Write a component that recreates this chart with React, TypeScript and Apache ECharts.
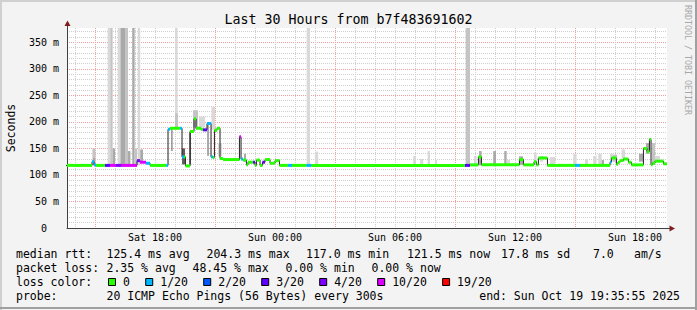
import { useEffect, useRef } from 'react';
import * as echarts from 'echarts';

// ---------- data ----------
const START_H = 13 + 35 / 60 + 55 / 3600; // Sat 13:35:55 (hours since Sat 00:00)
const END_H = START_H + 30; // Sun 19:35:55
const Y_MAX = 377;

const xLabelHours = [18, 24, 30, 36, 42];
const xMajorHours = [15, 21, 27, 33, 39];
const xMinorHours = [14, 16, 17, 18, 19, 20, 22, 23, 24, 25, 26, 28, 29, 30, 31, 32, 34, 35, 36, 37, 38, 40, 41, 42, 43];
const yLabelValues = [0, 50, 100, 150, 200, 250, 300, 350];
const yMajorValues = [50, 100, 150, 200, 250, 300, 350];
const yMinorValues = [10, 20, 30, 40, 60, 70, 80, 90, 110, 120, 130, 140, 160, 170, 180, 190, 210, 220, 230, 240, 260, 270, 280, 290, 310, 320, 330, 340, 360, 370];

const lossLabels = ['0', '1/20', '2/20', '3/20', '4/20', '10/20', '19/20'];
const lossColors = ['#26ff00', '#00b8ff', '#0059ff', '#5e00ff', '#7e00ff', '#dd00ff', '#ff0000'];

// median rtt: start hour of each step, value (ms), loss class (index into lossLabels)
const medianTime = [13.5, 14.85, 14.95, 15.05, 15.5, 15.75, 16.05, 16.3, 17.1, 17.25, 17.55, 17.75, 18.57, 18.65, 18.75, 19.25, 19.35, 19.45, 19.52, 19.75, 19.95, 20.05, 20.3, 20.4, 20.6, 20.8, 20.9, 20.97, 21.1, 21.25, 21.4, 22.22, 22.3, 22.4, 22.57, 22.65, 22.9, 23.0, 23.07, 23.25, 23.37, 23.5, 23.75, 24.0, 24.22, 24.65, 24.85, 25.57, 25.82, 33.5, 33.75, 34.17, 34.32, 36.22, 36.42, 36.95, 37.07, 37.17, 37.62, 39.0, 39.25, 40.75, 40.82, 41.07, 41.15, 41.25, 41.42, 41.67, 41.82, 42.42, 42.6, 42.72, 42.8, 42.87, 43.0, 43.42];
const medianMs = [118, 125, 119, 118, 118, 118, 118, 118, 127, 124, 122, 118, 118, 186, 188, 188, 134, 134, 117, 182, 206, 188, 186, 185, 197, 134, 133, 184, 188, 131, 129, 172, 130, 128, 119, 124, 124, 118, 128, 118, 124, 129, 122, 127, 118, 118, 118, 118, 118, 118, 119, 134, 119, 129, 119, 125, 119, 132, 118, 118, 118, 124, 132, 120, 124, 127, 130, 124, 119, 150, 144, 167, 119, 122, 126, 121];
const medianLoss = [0, 1, 1, 0, 3, 5, 4, 5, 4, 5, 1, 0, 1, 1, 0, 1, 1, 0, 0, 0, 0, 0, 0, 3, 1, 1, 0, 0, 0, 0, 0, 5, 1, 0, 0, 0, 3, 0, 0, 0, 3, 0, 0, 0, 0, 1, 0, 1, 0, 3, 0, 0, 0, 0, 0, 0, 0, 0, 0, 1, 0, 1, 0, 0, 0, 0, 0, 0, 0, 0, 0, 0, 0, 0, 0, 0];

// smoke (spread of the 20 pings): from hour, to hour, low ms, high ms, density 1..4
const smokeFrom = [14.87, 14.9, 15.63, 15.76, 15.88, 16.13, 16.27, 16.5, 16.65, 16.86, 16.98, 17.13, 17.26, 18.82, 19.01, 19.0, 19.35, 19.72, 19.9, 20.2, 20.6, 20.82, 21.15, 22.45, 25.58, 25.99, 30.91, 31.25, 31.63, 32.0, 33.53, 33.95, 34.2, 34.91, 35.46, 35.58, 36.2, 36.95, 37.25, 37.75, 38.91, 39.5, 39.91, 40.16, 40.33, 40.75, 40.9, 41.33, 42.2, 42.55, 42.85, 43.0];
const smokeTo = [15.02, 15.0, 15.75, 15.88, 16.0, 16.27, 16.5, 16.65, 16.77, 16.98, 17.1, 17.26, 17.4, 18.87, 19.13, 19.15, 19.5, 19.8, 20.15, 20.5, 20.7, 21.0, 21.35, 22.55, 25.75, 26.16, 31.05, 31.41, 31.75, 32.1, 33.75, 34.08, 34.33, 35.05, 35.58, 35.75, 36.4, 37.08, 37.41, 38.0, 39.08, 39.65, 40.08, 40.33, 40.45, 40.91, 41.1, 41.5, 42.4, 42.7, 43.0, 43.25];
const smokeLow = [118, 118, 118, 118, 120, 118, 118, 118, 118, 118, 120, 118, 124, 145, 188, 190, 120, 120, 190, 190, 136, 185, 135, 125, 118, 118, 118, 118, 118, 118, 118, 118, 118, 118, 118, 118, 119, 118, 125, 118, 118, 118, 118, 118, 118, 125, 125, 130, 125, 140, 122, 126];
const smokeHigh = [150, 132, 400, 400, 150, 400, 400, 400, 145, 400, 150, 400, 148, 188, 400, 216, 150, 180, 222, 210, 197, 228, 160, 140, 400, 144, 136, 130, 145, 128, 400, 136, 145, 145, 145, 128, 135, 142, 136, 134, 140, 130, 136, 140, 128, 140, 138, 148, 140, 160, 160, 136];
const smokeDensity = [2, 3, 1, 2, 3, 1, 3, 2, 3, 3, 2, 1, 3, 4, 1, 2, 4, 4, 2, 1, 3, 1, 1, 3, 1, 1, 1, 1, 1, 1, 2, 1, 3, 3, 3, 1, 3, 1, 1, 1, 1, 1, 1, 1, 3, 1, 2, 1, 3, 3, 2, 1];

const titleText = 'Last 30 Hours from b7f483691602';
const yAxisName = 'Seconds';
const watermark = 'RRDTOOL / TOBI OETIKER';
const rttLabel = 'median rtt:';
const rttItems = ['125.4 ms avg', '204.3 ms max', '117.0 ms min', '121.5 ms now', '17.8 ms sd', '7.0', 'am/s'];
const lossLabel = 'packet loss:';
const lossItems = ['2.35 % avg', '48.45 % max', '0.00 % min', '0.00 % now'];
const lossColorLabel = 'loss color:';
const probeLabel = 'probe:';
const probeText = '20 ICMP Echo Pings (56 Bytes) every 300s';
const endText = 'end: Sun Oct 19 19:35:55 2025';

// ---------- layout / style ----------
const W = 697;
const H = 310;
const MONO = '"DejaVu Sans Mono", monospace';
const LEG_FS = 11.5;
const ADV = LEG_FS * 0.602;
const rttItemX = [106.5, 206.5, 306, 407, 501, 593, 634];
const lossItemX = [106.5, 192.5, 285.5, 371.5];
const rowY = [254, 268, 282, 296];
const smokeShades = ['#d9d9d9', '#c4c4c4', '#a9a9a9', '#5e5e5e'];
const GRID_GRAY = '#cfcfcf';
const GRID_RED = '#f2a0a0';

function fmtHour(h: number) {
  const day = h < 24 ? 'Sat' : 'Sun';
  const hh = Math.round(h) % 24;
  return `${day} ${String(hh).padStart(2, '0')}:00`;
}

function txt(text: string, x: number, y: number, opts: any = {}) {
  return {
    type: 'text',
    x,
    y,
    rotation: opts.rotation || 0,
    z: 50,
    silent: true,
    style: {
      text,
      fill: opts.fill || '#000',
      fontSize: opts.fontSize || LEG_FS,
      fontFamily: MONO,
      align: opts.align || 'left',
      verticalAlign: 'middle',
    },
  };
}

export default function App() {
  const ref = useRef<HTMLDivElement>(null);

  useEffect(() => {
    if (!ref.current) return;
    const chart = echarts.init(ref.current, undefined, { renderer: 'svg' });

    const lineData = medianTime.map((t, i) => [t, medianMs[i]]);
    lineData.push([END_H, medianMs[medianMs.length - 1]]);

    const bandData = medianTime.map((t, i) => [
      t,
      i + 1 < medianTime.length ? medianTime[i + 1] : END_H,
      medianMs[i],
      medianLoss[i],
    ]);

    const smokeData = smokeFrom.map((t, i) => [t, smokeTo[i], smokeLow[i], smokeHigh[i], smokeDensity[i]]);

    const graphics: any[] = [];
    graphics.push({ type: 'rect', shape: { x: 0, y: 0, width: W, height: 2 }, style: { fill: '#d0d0d0' }, silent: true, z: 40 });
    graphics.push({ type: 'rect', shape: { x: 0, y: 0, width: 2, height: H }, style: { fill: '#d0d0d0' }, silent: true, z: 40 });
    graphics.push({ type: 'rect', shape: { x: W - 2, y: 0, width: 2, height: H }, style: { fill: '#a0a0a0' }, silent: true, z: 41 });
    graphics.push({ type: 'rect', shape: { x: 0, y: H - 3, width: W, height: 2 }, style: { fill: '#a0a0a0' }, silent: true, z: 41 });
    graphics.push({ type: 'line', shape: { x1: 67.5, y1: 28, x2: 67.5, y2: 25 }, style: { stroke: '#404040', lineWidth: 1 }, silent: true, z: 45 });
    graphics.push({ type: 'polygon', shape: { points: [[67.5, 20.5], [64.5, 26], [70.5, 26]] }, style: { fill: '#7f1d1d' }, silent: true, z: 46 });
    graphics.push({ type: 'line', shape: { x1: 667, y1: 228.5, x2: 670, y2: 228.5 }, style: { stroke: '#404040', lineWidth: 1 }, silent: true, z: 45 });
    graphics.push({ type: 'polygon', shape: { points: [[675, 228.5], [669.5, 225.5], [669.5, 231.5]] }, style: { fill: '#7f1d1d' }, silent: true, z: 46 });

    graphics.push(txt(titleText, W / 2, 19.5, { fontSize: 13.3, align: 'center' }));
    graphics.push(txt(watermark, 688, 60, { fontSize: 8.3, align: 'center', fill: '#a8a8a8', rotation: -Math.PI / 2 }));

    graphics.push(txt(rttLabel, 16, rowY[0]));
    rttItems.forEach((s, i) => graphics.push(txt(s, rttItemX[i], rowY[0])));
    graphics.push(txt(lossLabel, 16, rowY[1]));
    lossItems.forEach((s, i) => graphics.push(txt(s, lossItemX[i], rowY[1])));
    graphics.push(txt(lossColorLabel, 16, rowY[2]));
    let sx = 108.5;
    lossLabels.forEach((lab, i) => {
      graphics.push({
        type: 'rect',
        shape: { x: sx, y: rowY[2] - 3.5, width: 7, height: 7 },
        style: { fill: lossColors[i], stroke: '#000', lineWidth: 1 },
        silent: true,
        z: 50,
      });
      graphics.push(txt(lab, sx + 14.5, rowY[2]));
      sx = sx + 15 + lab.length * ADV + 15.3;
    });
    graphics.push(txt(probeLabel, 16, rowY[3]));
    graphics.push(txt(probeText, 106.5, rowY[3]));
    graphics.push(txt(endText, 680, rowY[3], { align: 'right' }));

    const option: any = {
      animation: false,
      backgroundColor: '#f3f3f3',
      grid: {
        left: 67,
        right: 30,
        top: 28,
        bottom: 82,
        show: true,
        backgroundColor: '#ffffff',
        borderWidth: 0,
        containLabel: false,
        outerBoundsMode: 'none',
      },
      xAxis: [
        {
          type: 'value',
          min: START_H,
          max: END_H,
          position: 'bottom',
          axisLine: { show: true, onZero: false, lineStyle: { color: '#404040', width: 1 } },
          axisTick: { show: false, customValues: xMinorHours },
          axisLabel: {
            show: true,
            customValues: xLabelHours,
            formatter: (v: number) => fmtHour(v),
            fontFamily: MONO,
            fontSize: 10,
            color: '#000',
            margin: 4,
          },
          splitLine: { show: true, lineStyle: { color: GRID_GRAY, width: 1, type: [1, 1] } },
        },
        {
          type: 'value',
          min: START_H,
          max: END_H,
          position: 'top',
          axisLine: { show: false },
          axisTick: { show: false, customValues: xMajorHours },
          axisLabel: { show: false },
          splitLine: { show: true, lineStyle: { color: GRID_RED, width: 1, type: [1, 1] } },
        },
      ],
      yAxis: [
        {
          type: 'value',
          min: 0,
          max: Y_MAX,
          position: 'left',
          name: yAxisName,
          nameLocation: 'middle',
          nameRotate: 90,
          nameGap: 50,
          nameTextStyle: { fontFamily: MONO, fontSize: 11.5, color: '#000' },
          axisLine: { show: true, onZero: false, lineStyle: { color: '#404040', width: 1 } },
          axisTick: { show: false, customValues: yMinorValues },
          axisLabel: {
            show: true,
            customValues: yLabelValues,
            formatter: (v: number) => (v === 0 ? '{z|0}' : `${v} m`),
            rich: { z: { padding: [0, 12, 0, 0], fontFamily: MONO, fontSize: 10, color: '#000' } },
            fontFamily: MONO,
            fontSize: 10,
            color: '#000',
            margin: 8,
          },
          splitLine: { show: true, lineStyle: { color: GRID_GRAY, width: 1, type: [1, 1] } },
        },
        {
          type: 'value',
          min: 0,
          max: Y_MAX,
          position: 'right',
          axisLine: { show: false },
          axisTick: { show: false, customValues: yMajorValues },
          axisLabel: { show: false },
          splitLine: { show: true, lineStyle: { color: GRID_RED, width: 1, type: [1, 1] } },
        },
      ],
      series: [
        {
          type: 'custom',
          name: 'smoke',
          xAxisIndex: 0,
          yAxisIndex: 0,
          clip: true,
          z: 2,
          silent: true,
          data: smokeData,
          encode: { x: [0, 1], y: [2, 3] },
          renderItem: (_p: any, api: any) => {
            const t0 = api.value(0);
            const t1 = api.value(1);
            const lo = api.value(2);
            const hi = Math.min(api.value(3), Y_MAX);
            const a = api.coord([t0, hi]);
            const b = api.coord([t1, lo]);
            return {
              type: 'rect',
              shape: { x: a[0], y: a[1], width: b[0] - a[0], height: b[1] - a[1] },
              style: { fill: smokeShades[api.value(4) - 1] },
            };
          },
        },
        {
          type: 'line',
          name: 'median',
          xAxisIndex: 0,
          yAxisIndex: 0,
          step: 'end',
          symbol: 'none',
          z: 3,
          silent: true,
          lineStyle: { color: '#202020', width: 1 },
          data: lineData,
        },
        {
          type: 'custom',
          name: 'loss',
          xAxisIndex: 0,
          yAxisIndex: 0,
          clip: true,
          z: 4,
          silent: true,
          data: bandData,
          encode: { x: [0, 1], y: 2 },
          renderItem: (_p: any, api: any) => {
            const t0 = api.value(0);
            const t1 = api.value(1);
            const v = api.value(2);
            const a = api.coord([t0, v]);
            const b = api.coord([t1, v]);
            return {
              type: 'rect',
              shape: { x: a[0], y: a[1] - 1.5, width: b[0] - a[0], height: 3 },
              style: { fill: lossColors[api.value(3)] },
            };
          },
        },
      ],
      graphic: { elements: graphics },
    };

    chart.setOption(option);
    return () => chart.dispose();
  }, []);

  return (
    <div
      ref={ref}
      style={{ position: 'fixed', left: 0, top: 0, width: W, height: H }}
    />
  );
}
